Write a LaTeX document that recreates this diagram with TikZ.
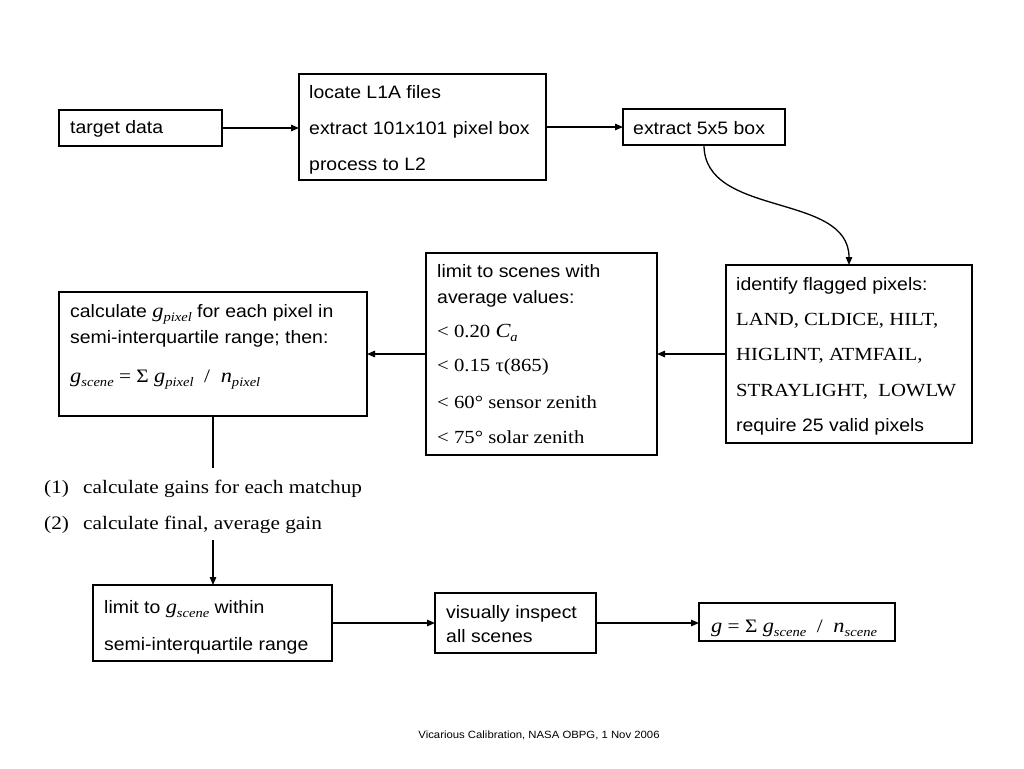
\documentclass[tikz,border=0pt]{standalone}
\usepackage{fontspec}
\usetikzlibrary{arrows.meta}
\newfontfamily\sansf[FakeStretch=1.08]{Liberation Sans}
\newfontfamily\seriff[FakeStretch=1.12]{Liberation Serif}
\newcommand\subv[2]{{\seriff\itshape\fontsize{20}{22}\selectfont #1\raisebox{-0.45ex}{\fontsize{13}{13}\selectfont #2}}}
\begin{document}
\begin{tikzpicture}[x=1pt,y=-1pt,
  box/.style={draw=black,line width=1.3pt,inner sep=0pt,outer sep=0pt,anchor=north west},
  txt/.style={inner sep=0pt,anchor=base west,font=\fontsize{18}{20}\sansf\selectfont},
  stxt/.style={inner sep=0pt,anchor=base west,font=\fontsize{18.5}{21}\seriff\selectfont},
  ltxt/.style={inner sep=0pt,anchor=base west,font=\fontsize{19}{21}\seriff\selectfont},
  arr/.style={line width=1.3pt,-{Triangle[length=8pt,width=6.5pt]}},
  ln/.style={line width=1.3pt}]
\fill[white] (0,0) rectangle (1024,768);
\useasboundingbox (0,0) rectangle (1024,768);

% boxes
\node[box,minimum width=163pt,minimum height=36pt] (tgt) at (59,110) {};
\node[box,minimum width=247pt,minimum height=106pt] (loc) at (299,74) {};
\node[box,minimum width=162pt,minimum height=36pt] (ext) at (623,109) {};
\node[box,minimum width=246pt,minimum height=178pt] (idf) at (726,265) {};
\node[box,minimum width=231pt,minimum height=202pt] (lim) at (426,253) {};
\node[box,minimum width=308pt,minimum height=124pt] (calc) at (59,292) {};
\node[box,minimum width=239pt,minimum height=76pt] (limg) at (93,585) {};
\node[box,minimum width=161pt,minimum height=60pt] (vis) at (435,593) {};
\node[box,minimum width=196pt,minimum height=38pt] (gbox) at (699,603) {};

% texts
\node[txt] (t1) at (70,133) {target data};
\node[txt] (t2) at (309,98) {locate L1A files};
\node[txt] (t3) at (309,134) {extract 101x101 pixel box};
\node[txt] (t4) at (309,170) {process to L2};
\node[txt] (t5) at (633,134) {extract 5x5 box};

\node[txt] (t6) at (736,290) {identify flagged pixels:};
\node[stxt] (t7) at (736,325) {LAND, CLDICE, HILT,};
\node[stxt] (t8) at (736,360) {HIGLINT, ATMFAIL,};
\node[stxt] (t9) at (736,396) {STRAYLIGHT,\ \ LOWLW};
\node[txt] (t10) at (736,431) {require 25 valid pixels};

\node[txt] (t11) at (437,277) {limit to scenes with};
\node[txt] (t12) at (437,303) {average values:};
\node[stxt] (t13) at (437,337) {< 0.20 \subv{C}{a}};
\node[stxt] (t14) at (437,371) {< 0.15 τ(865)};
\node[stxt] (t15) at (437,408) {< 60° sensor zenith};
\node[stxt] (t16) at (437,443) {< 75° solar zenith};

\node[txt] (t17) at (70,317) {calculate \subv{g}{pixel} for each pixel in};
\node[txt] (t18) at (70,343) {semi-interquartile range; then:};
\node[ltxt] (t19) at (70,382) {\subv{g}{scene} = Σ \subv{g}{pixel}\ \ /\ \ \subv{n}{pixel}};

\node[ltxt] (l1) at (44,493) {(1)};
\node[ltxt] (l1b) at (83,493) {calculate gains for each matchup};
\node[ltxt] (l2) at (44,529) {(2)};
\node[ltxt] (l2b) at (83,529) {calculate final, average gain};

\node[txt] (t20) at (104,613) {limit to \subv{g}{scene} within};
\node[txt] (t21) at (104,650) {semi-interquartile range};
\node[txt] (t22) at (446,618) {visually inspect};
\node[txt] (t23) at (446,642) {all scenes};
\node[ltxt] (t24) at (711,632) {\subv{g}{} = Σ \subv{g}{scene}\ \ /\ \ \subv{n}{scene}};

\node[inner sep=0pt,font=\fontsize{10.5}{12}\sansf\selectfont] (foot) at (539,735) {Vicarious Calibration, NASA OBPG, 1 Nov 2006};

% connectors
\draw[arr] (tgt.east) -- (tgt.east -| loc.west);
\draw[arr] (loc.east) -- (loc.east -| ext.west);
\coordinate (cs) at (704,145);
\coordinate (ce) at (849,265);
\draw[arr] (cs) .. controls (704,218) and (849,192) .. (ce);
\draw[arr] (idf.west) -- (idf.west -| lim.east);
\draw[arr] (lim.west) -- (lim.west -| calc.east);
\coordinate (v1) at (213,468);
\draw[ln] (calc.south) -- (v1);
\coordinate (v2) at (213,540);
\draw[arr] (v2) -- (v2 |- limg.north);
\draw[arr] (limg.east) -- (limg.east -| vis.west);
\draw[arr] (vis.east) -- (vis.east -| gbox.west);
\end{tikzpicture}
\end{document}
